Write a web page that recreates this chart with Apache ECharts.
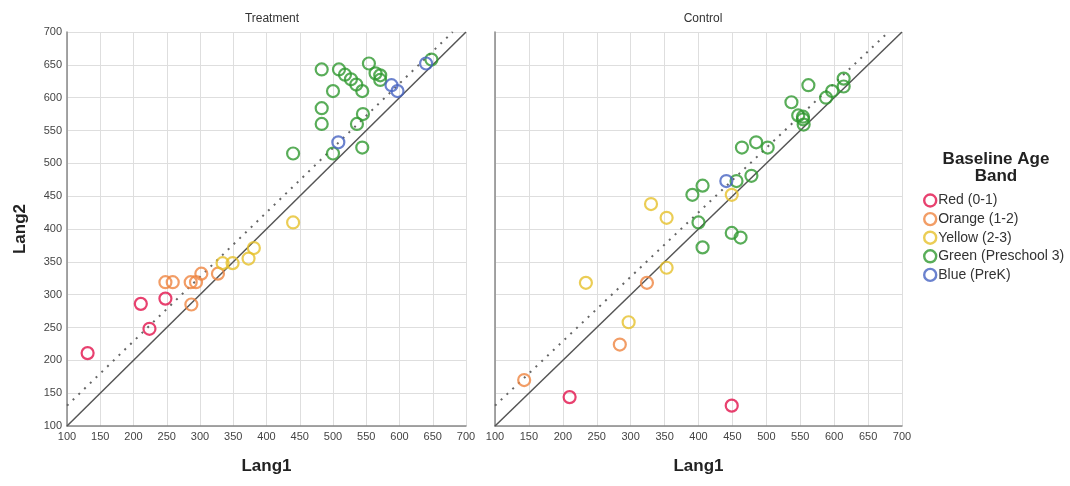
<!DOCTYPE html>
<html>
<head>
<meta charset="utf-8">
<script src="https://cdn.jsdelivr.net/npm/echarts@6/dist/echarts.min.js"></script>
<style>
  html, body { margin: 0; padding: 0; background: #fff; }
  #main { width: 1070px; height: 486px; }
</style>
</head>
<body>
<div id="main"></div>
<script>
// band names and colours
var bands = ['Red (0-1)', 'Orange (1-2)', 'Yellow (2-3)', 'Green (Preschool 3)', 'Blue (PreK)'];
var bandColors = ['#e2124b', '#ef8440', '#e6c02a', '#2f982f', '#4663c2'];

// Treatment panel: [Lang1, Lang2]
var treatRed = [[131, 211], [211, 286], [224, 248], [248, 294]];
var treatOrange = [[248, 319], [259, 319], [286, 319], [294, 319], [302, 332], [327, 332], [287, 285]];
var treatYellow = [[334, 348], [349, 348], [373, 355], [381, 371], [440, 410]];
var treatGreen = [
  [483, 643], [509, 643], [518, 635], [527, 628], [535, 620], [544, 610], [554, 652],
  [564, 637], [571, 634], [571, 627], [500, 610], [483, 584], [483, 560], [536, 560],
  [545, 575], [544, 524], [500, 515], [440, 515], [648, 658]
];
var treatBlue = [[508, 532], [588, 619], [597, 610], [640, 652]];

// Control panel: [Lang1, Lang2]
var ctrlRed = [[210, 144], [449, 131]];
var ctrlOrange = [[143, 170], [284, 224], [324, 318]];
var ctrlYellow = [[234, 318], [297, 258], [353, 341], [353, 417], [330, 438], [449, 452]];
var ctrlGreen = [
  [562, 619], [614, 629], [614, 617], [597, 610], [588, 600], [537, 593], [547, 573],
  [554, 571], [554, 567], [555, 559], [485, 532], [502, 524], [464, 524], [478, 481],
  [456, 473], [406, 466], [391, 452], [400, 410], [406, 372], [449, 394], [462, 387]
];
var ctrlBlue = [[441, 473]];

// reference lines
var identityLine = [[100, 100], [700, 700]];
var offsetLine = [[100, 131], [680, 700]];

var panelTitles = ['Treatment', 'Control'];
var xTicks = { min: 100, max: 700, interval: 50 };

var treatData = [treatRed, treatOrange, treatYellow, treatGreen, treatBlue];
var ctrlData = [ctrlRed, ctrlOrange, ctrlYellow, ctrlGreen, ctrlBlue];

var myChart = echarts.init(document.getElementById('main'));

var labelFont = 'Liberation Sans, Arial, sans-serif';

function makeAxis(gridIndex, showLabels, name) {
  return {
    type: 'value',
    gridIndex: gridIndex,
    min: xTicks.min,
    max: xTicks.max,
    interval: xTicks.interval,
    name: name,
    axisLine: { show: true, onZero: false, lineStyle: { color: '#888', width: 1.5 } },
    axisTick: { show: false },
    axisLabel: { show: showLabels, color: '#444', fontSize: 11, fontFamily: labelFont, margin: 5 },
    splitLine: { show: true, lineStyle: { color: '#dedede', width: 1 } }
  };
}

var xAxes = [0, 1].map(function (g) {
  var a = makeAxis(g, true, 'Lang1');
  a.nameLocation = 'middle';
  a.nameGap = 32;
  a.nameTextStyle = { fontSize: 17, fontWeight: 'bold', color: '#222', fontFamily: labelFont };
  return a;
});
var yAxes = [0, 1].map(function (g) {
  var a = makeAxis(g, g === 0, g === 0 ? 'Lang2' : '');
  a.nameLocation = 'middle';
  a.nameGap = 38;
  a.nameTextStyle = { fontSize: 17, fontWeight: 'bold', color: '#222', fontFamily: labelFont };
  return a;
});

var series = [];
[treatData, ctrlData].forEach(function (panel, g) {
  series.push({
    type: 'line', xAxisIndex: g, yAxisIndex: g, data: identityLine,
    symbol: 'none', silent: true, z: 1,
    lineStyle: { color: '#555', width: 1.5 }
  });
  series.push({
    type: 'line', xAxisIndex: g, yAxisIndex: g, data: offsetLine,
    symbol: 'none', silent: true, z: 1,
    lineStyle: { color: '#666', width: 2, type: [2, 6] }
  });
  panel.forEach(function (pts, i) {
    series.push({
      name: bands[i],
      type: 'scatter',
      xAxisIndex: g,
      yAxisIndex: g,
      data: pts,
      symbol: 'circle',
      symbolSize: 12,
      z: 3,
      itemStyle: { color: 'rgba(0,0,0,0)', borderColor: bandColors[i], borderWidth: 2.2 }
    });
  });
});

var option = {
  animation: false,
  textStyle: { fontFamily: labelFont },
  title: [
    { text: panelTitles[0], left: 267, top: 8, textAlign: 'center',
      textStyle: { fontSize: 12, fontWeight: 'normal', color: '#333' } },
    { text: panelTitles[1], left: 698, top: 8, textAlign: 'center',
      textStyle: { fontSize: 12, fontWeight: 'normal', color: '#333' } },
    { text: 'Baseline Age\nBand', left: 991, top: 146, textAlign: 'center',
      textStyle: { fontSize: 17, fontWeight: 'bold', color: '#222', lineHeight: 17 } }
  ],
  legend: {
    orient: 'vertical',
    left: 918,
    top: 188,
    itemWidth: 12,
    itemHeight: 12,
    itemGap: 3.6,
    icon: 'circle',
    data: bands,
    itemStyle: { color: 'rgba(0,0,0,0)', borderWidth: 2.4 },
    textStyle: { fontSize: 14, color: '#333', lineHeight: 15, padding: [0, 0, 0, -3] }
  },
  grid: [
    { left: 67, right: 604, top: 32, bottom: 60 },
    { left: 495, right: 168, top: 32, bottom: 60 }
  ],
  xAxis: xAxes,
  yAxis: yAxes,
  series: series
};

option && myChart.setOption(option);
</script>
</body>
</html>
